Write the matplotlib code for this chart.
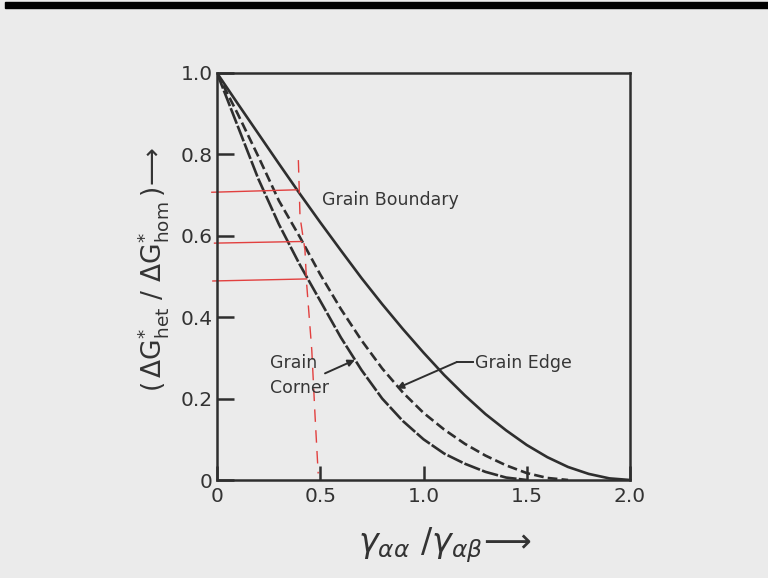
import matplotlib
matplotlib.use("Agg")
import matplotlib.pyplot as plt
from matplotlib.patches import Rectangle

# ---- data ----
x_boundary = [0.0, 0.1, 0.2, 0.3, 0.4, 0.5, 0.6, 0.7, 0.8, 0.9, 1.0, 1.1, 1.2, 1.3,
              1.4, 1.5, 1.6, 1.7, 1.8, 1.9, 2.0]
y_boundary = [1.0, 0.925, 0.851, 0.777, 0.704, 0.633, 0.564, 0.496, 0.432, 0.371,
              0.313, 0.258, 0.208, 0.162, 0.122, 0.086, 0.056, 0.032, 0.015, 0.004, 0.0]

x_edge = [0.0, 0.1, 0.2, 0.3, 0.4, 0.5, 0.6, 0.7, 0.8, 0.9, 1.0, 1.1, 1.2, 1.3,
          1.4, 1.5, 1.6, 1.7]
y_edge = [1.0, 0.90, 0.795, 0.686, 0.598, 0.505, 0.420, 0.343, 0.274, 0.215,
          0.165, 0.124, 0.089, 0.060, 0.036, 0.017, 0.005, 0.0]

x_corner = [0.0, 0.1, 0.2, 0.3, 0.4, 0.5, 0.6, 0.7, 0.8, 0.9, 1.0, 1.1, 1.2, 1.3,
            1.4, 1.5]
y_corner = [1.0, 0.87, 0.74, 0.628, 0.53, 0.44, 0.35, 0.27, 0.20, 0.145,
            0.10, 0.065, 0.04, 0.02, 0.006, 0.0]

# hand-drawn red annotations
red_h_x = [[-0.025, 0.386], [-0.012, 0.410], [-0.020, 0.434]]
red_h_y = [[0.707, 0.713], [0.582, 0.586], [0.489, 0.494]]
red_v_x = [0.394, 0.402, 0.426, 0.434, 0.459, 0.475, 0.490]
red_v_y = [0.786, 0.647, 0.565, 0.483, 0.319, 0.156, 0.016]

x_ticks = [0.0, 0.5, 1.0, 1.5, 2.0]
x_tick_labels = ["0", "0.5", "1.0", "1.5", "2.0"]
y_ticks = [0.0, 0.2, 0.4, 0.6, 0.8, 1.0]
y_tick_labels = ["0", "0.2", "0.4", "0.6", "0.8", "1.0"]

# ---- style ----
BG = "#ebebeb"
INK = "#2e2e2e"
RED = "#e2403f"
plt.rcParams["font.family"] = ["DejaVu Sans"]
plt.rcParams["mathtext.fontset"] = "dejavusans"
plt.rcParams["lines.scale_dashes"] = False

fig = plt.figure(figsize=(7.68, 5.78), dpi=100, facecolor=BG)
ax = fig.add_axes([217 / 768, 1 - 480 / 578, (630 - 217) / 768, (480 - 73) / 578])
ax.set_facecolor(BG)

# top black band of the slide
fig.patches.append(Rectangle((5 / 768, 1 - 8 / 578), 1, 6 / 578,
                             transform=fig.transFigure, color="black", zorder=0))

lw = 1.9
ax.plot(x_boundary, y_boundary, color=INK, lw=lw, solid_capstyle="round")
ax.plot(x_edge, y_edge, color=INK, lw=lw, dashes=(7, 3))
ax.plot(x_corner, y_corner, color=INK, lw=lw, dashes=(12, 1.6))

# red markings
for hx, hy in zip(red_h_x, red_h_y):
    ax.plot(hx, hy, color=RED, lw=1.0, clip_on=False)
ax.plot(red_v_x, red_v_y, color=RED, lw=1.0, dashes=(9, 6))

ax.set_xlim(0, 2.0)
ax.set_ylim(0, 1.0)
ax.set_xticks(x_ticks)
ax.set_xticklabels(x_tick_labels)
ax.set_yticks(y_ticks)
ax.set_yticklabels(y_tick_labels)
ax.tick_params(axis="x", direction="in", length=10, width=1.8, color=INK,
               labelsize=14.5, labelcolor="#333333", pad=5)
ax.tick_params(axis="y", direction="in", length=12, width=1.8, color=INK,
               labelsize=14.5, labelcolor="#333333", pad=3)
for s in ax.spines.values():
    s.set_linewidth(1.8)
    s.set_color(INK)

# annotations
tcol = "#363636"
ax.text(0.508, 0.688, "Grain Boundary", fontsize=12.5, color=tcol, va="center", ha="left")
ax.text(1.249, 0.287, "Grain Edge", fontsize=12.5, color=tcol, va="center", ha="left")
ax.text(0.257, 0.287, "Grain", fontsize=12.5, color=tcol, va="center", ha="left")
ax.text(0.257, 0.226, "Corner", fontsize=12.5, color=tcol, va="center", ha="left")

arrow = dict(arrowstyle="-|>", color=INK, lw=1.4, mutation_scale=10, shrinkA=0, shrinkB=0)
ax.plot([1.24, 1.162], [0.29, 0.29], color=INK, lw=1.4)
ax.annotate("", xy=(0.87, 0.225), xytext=(1.162, 0.29), arrowprops=arrow)
ax.annotate("", xy=(0.668, 0.295), xytext=(0.523, 0.262), arrowprops=arrow)

# axis labels
fig.text(153 / 768, 1 - 270 / 578,
         r"$(\,\Delta \mathrm{G}^{*}_{\rm het}\ /\ \Delta \mathrm{G}^{*}_{\rm hom}\,)\!\longrightarrow$",
         rotation=90, ha="center", va="center", fontsize=19, color="#333333")
fig.text(445 / 768, 1 - 545 / 578,
         r"$\gamma_{\alpha\alpha}\ /\gamma_{\alpha\beta}\!\longrightarrow$",
         ha="center", va="center", fontsize=24, color="#333333")

fig.savefig("out.png", dpi=100, facecolor=BG)
